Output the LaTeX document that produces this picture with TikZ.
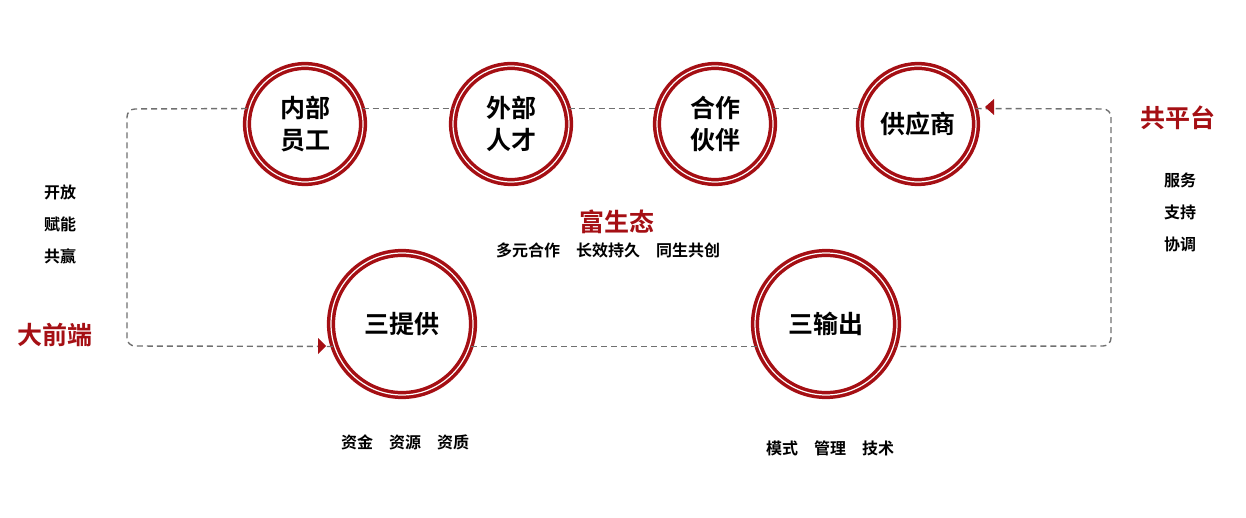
\documentclass[tikz,border=0pt]{standalone}
\usepackage{fontspec}
\setmainfont{Noto Sans CJK SC}
\newfontfamily\cjkb{Noto Sans CJK SC Bold}
\usetikzlibrary{arrows.meta}
\definecolor{ringred}{HTML}{A50F14}
\definecolor{loopgray}{HTML}{707070}
\tikzset{
  ring/.style={circle, draw=ringred, line width=3.5pt, minimum size=#1,
    double=white, double distance=1.2pt, inner sep=0pt, align=center,
    font=\cjkb\fontsize{25}{32}\selectfont},
  loopline/.style={loopgray, dashed, dash pattern=on 6pt off 4pt, line width=1.4pt},
  side/.style={font=\cjkb\fontsize{16}{18}\selectfont, align=center},
  title/.style={font=\cjkb\fontsize{25}{28}\selectfont, text=ringred}
}
\begin{document}
\begin{tikzpicture}[x=1pt, y=-1pt]
        \useasboundingbox (0,0) rectangle (1246,518);

        \node[ring=116pt] (nb) at (305,124) {内部\\员工};
        \node[ring=116pt] (wb) at (511,124) {外部\\人才};
        \node[ring=116pt] (hz) at (715,124) {合作\\伙伴};
        \node[ring=116pt] (gy) at (918,124) {供应商};
        \node[ring=142pt] (tg) at (402,324) {三提供};
        \node[ring=142pt] (sc) at (826,324) {三输出};

        \coordinate (tl) at (127,109);
        \coordinate (tr) at (1111,109);
        \coordinate (bl) at (127,346);
        \coordinate (br) at (1111,346);

        \draw[loopline] (nb.15) -- (wb.165);
        \draw[loopline] (wb.15) -- (hz.165);
        \draw[loopline] (hz.15) -- (gy.165);
        \draw[loopline, rounded corners=8pt] (gy.15) -- (tr) -- (br) -- (sc.-18);
        \draw[loopline] (sc.198) -- (tg.-18);
        \draw[loopline, rounded corners=8pt] (tg.198) -- (bl) -- (tl) -- (nb.165);

        \coordinate (ar) at (985,107);
        \coordinate (al) at (318,346);
        \fill[ringred] (ar) -- ++(9,-8) -- ++(0,16) -- cycle;
        \fill[ringred] (al) ++(8,0) -- ++(-8,-8) -- ++(0,16) -- cycle;

        \node[title] (gpt) at (1178,118) {共平台};
        \node[title] (dqd) at (55,335) {大前端};
        \node[title] (fst) at (617,222) {富生态};
        \node[side] (fsd) at (608,250) {多元合作\quad 长效持久\quad 同生共创};

        \node[side, font=\cjkb\fontsize{16}{32}\selectfont] (kf) at (60,224) {开放\\赋能\\共赢};
        \node[side, font=\cjkb\fontsize{16}{32}\selectfont] (fw) at (1180,212) {服务\\支持\\协调};
        \node[side] (zj) at (405,442) {资金\quad 资源\quad 资质};
        \node[side] (ms) at (830,448) {模式\quad 管理\quad 技术};

    \end{tikzpicture}
\end{document}
